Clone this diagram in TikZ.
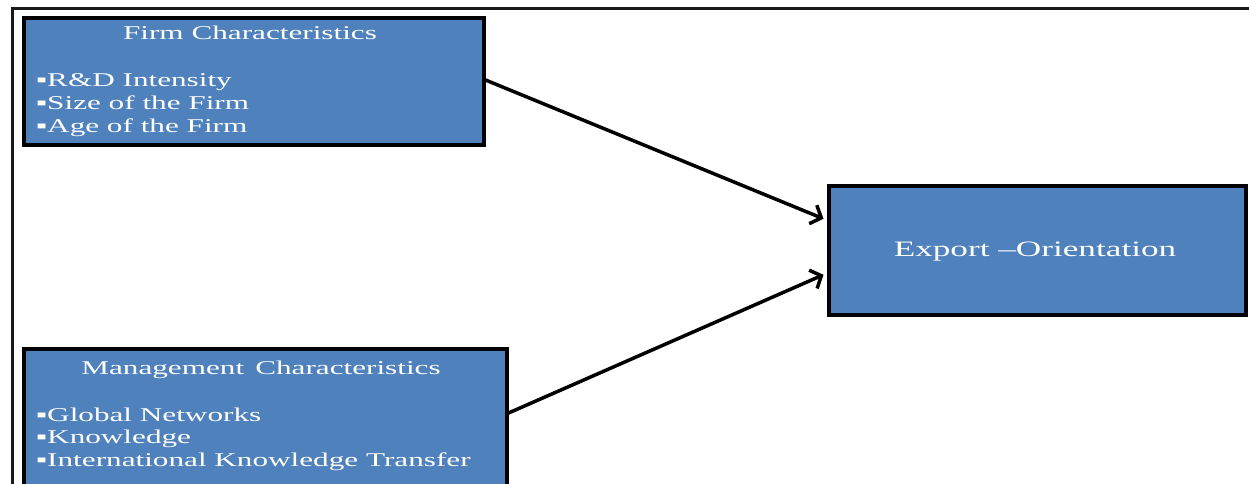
\documentclass[tikz,border=0pt]{standalone}
\usepackage{fontspec}
\setmainfont{Liberation Serif}
\newfontfamily\wf[FakeStretch=1.6]{Liberation Serif}
\usetikzlibrary{arrows.meta,calc}
\definecolor{boxblue}{HTML}{4F81BD}
\begin{document}
\begin{tikzpicture}[x=1pt,y=-1pt,
  blockbox/.style={draw=black,line width=3.5pt,fill=boxblue,rectangle,anchor=north west,inner sep=0pt},
  txt/.style={text=white,inner sep=0pt,font=\wf\fontsize{19.5}{23}\selectfont},
  conn/.style={line width=3.5pt,-{Straight Barb[length=9pt,width=20pt,line width=3.5pt]}}]
\useasboundingbox (0,0) rectangle (1249,483);
\clip (0,0) rectangle (1249,483);
\fill[white] (0,0) rectangle (1249,483);
% outer frame
\draw[line width=3pt,black!90] (12,490) -- (12,8) -- (1260,8);
% boxes
\node[blockbox,minimum width=460pt,minimum height=127pt] (firm) at (22,16) {};
\node[blockbox,minimum width=483pt,minimum height=150pt] (mgmt) at (22,347) {};
\node[blockbox,minimum width=417pt,minimum height=129pt] (exp) at (827,184) {};
% texts
\node[txt,anchor=base] (firmt) at (250,39) {Firm Characteristics};
\node[txt,anchor=base west] (f1) at (36,86) {▪R\&D Intensity};
\node[txt,anchor=base west] (f2) at (36,109) {▪Size of the Firm};
\node[txt,anchor=base west] (f3) at (36,132) {▪Age of the Firm};
\node[txt,anchor=base] (mgmtt) at (261,374) {Management\, Characteristics};
\node[txt,anchor=base west] (m1) at (36,421) {▪Global Networks};
\node[txt,anchor=base west] (m2) at (36,443) {▪Knowledge};
\node[txt,anchor=base west] (m3) at (36,466) {▪International Knowledge Transfer};
\node[txt,anchor=base,font=\wf\fontsize{22}{26}\selectfont] (expt) at (1035,256) {Export –Orientation};
% connectors
\draw[conn] ($(firm.north east)+(0,64)$) -- ($(exp.west)+(-3.5,-31.5)$);
\draw[conn] ($(mgmt.north east)+(0,66)$) -- ($(exp.west)+(-3.5,24.5)$);
\end{tikzpicture}
\end{document}
